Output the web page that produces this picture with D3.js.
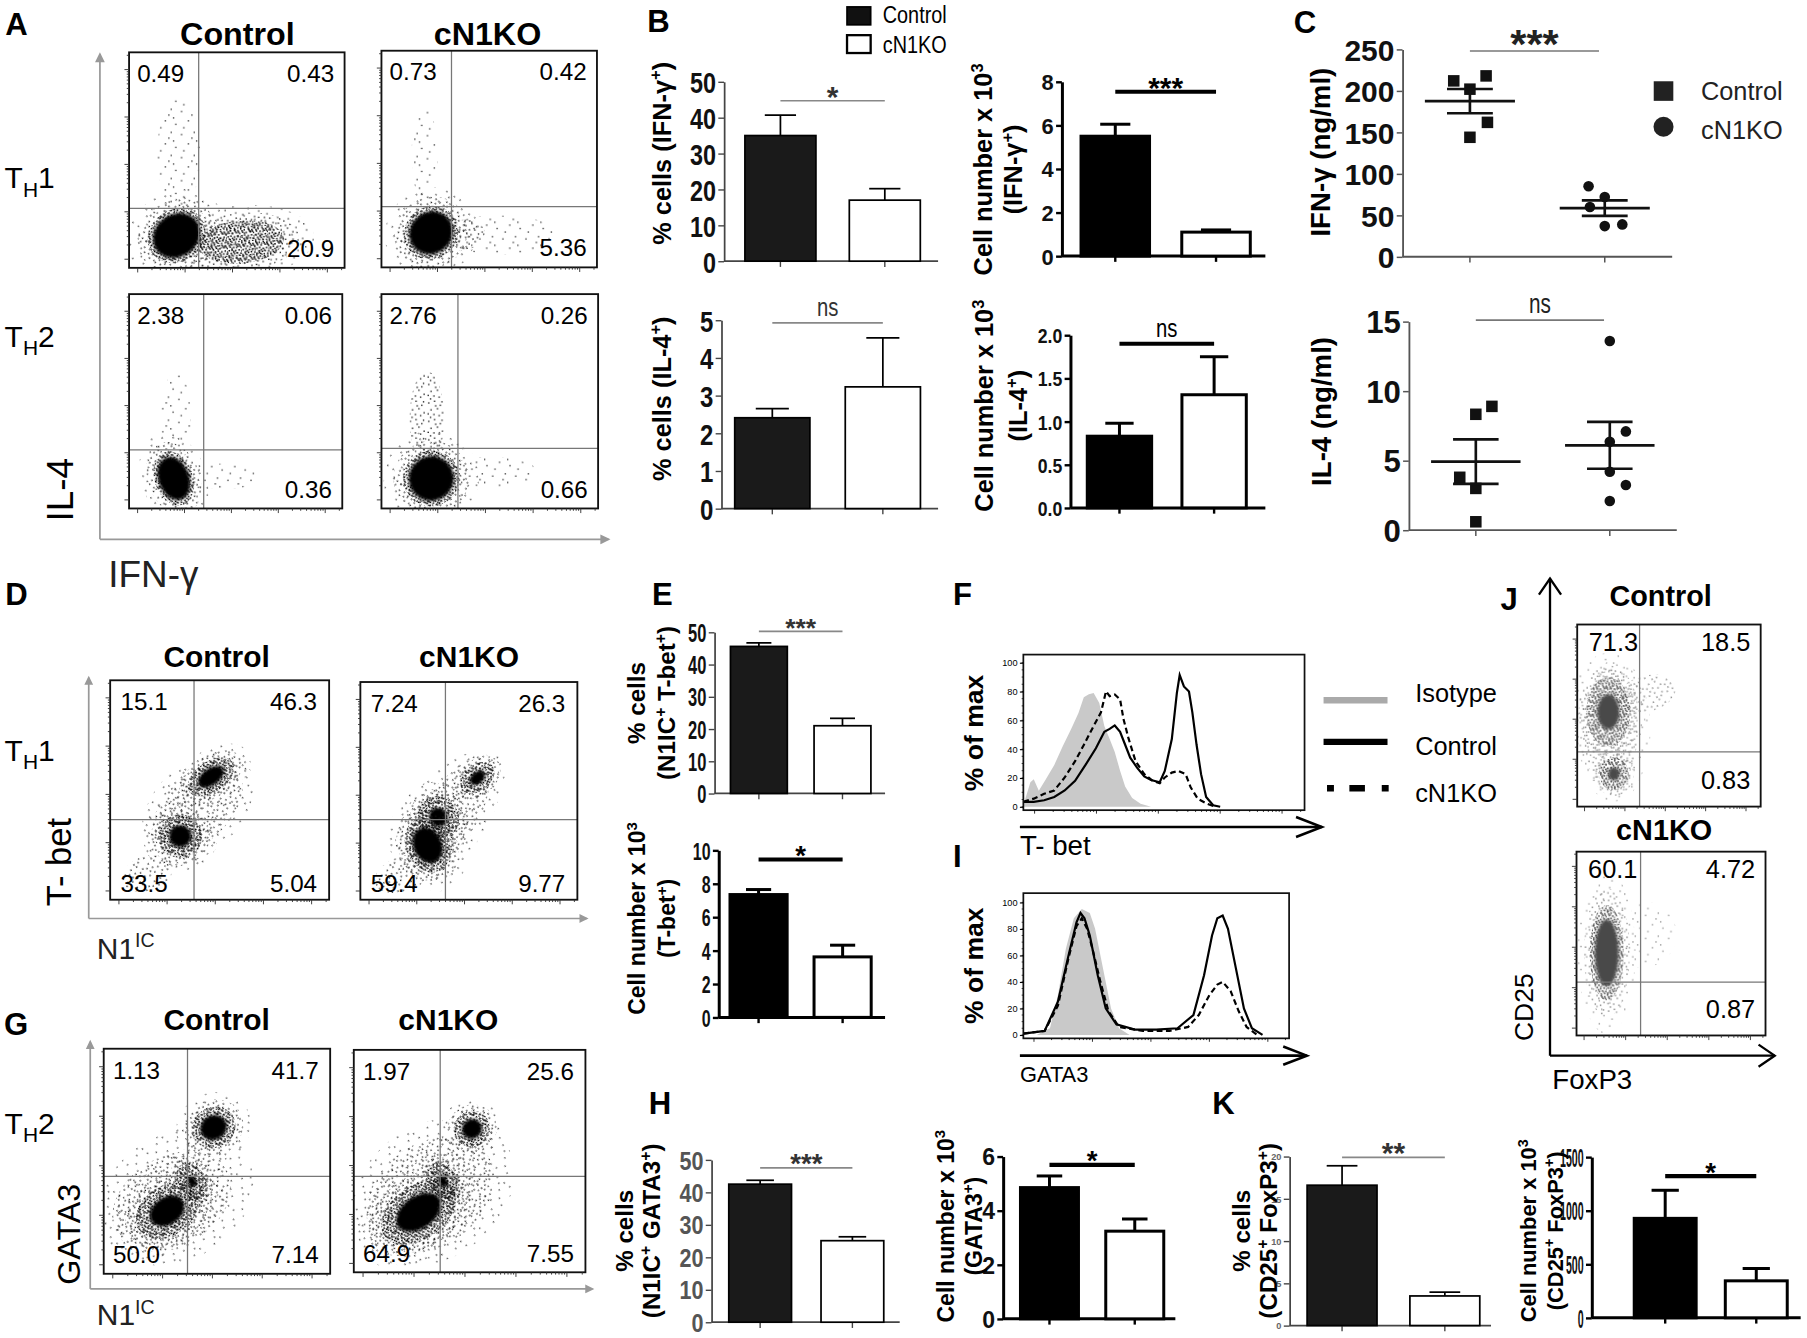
<!DOCTYPE html>
<html><head><meta charset="utf-8">
<script src="https://cdn.jsdelivr.net/npm/d3@7"></script>
<style>
html,body{margin:0;padding:0;background:#fff;}
svg{display:block;}
</style></head><body>
<svg id="fig"></svg>
<script>
// ================= DATA =================
const groups = ["Control", "cN1KO"];

// Panel B (mean, SEM)
const bIfnPctMean = [35.0, 17.0], bIfnPctSem = [5.7, 3.2];
const bIfnNumMean = [5.5, 1.1],   bIfnNumSem = [0.55, 0.1];
const bIl4PctMean = [2.41, 3.23], bIl4PctSem = [0.24, 1.3];
const bIl4NumMean = [0.83, 1.31], bIl4NumSem = [0.15, 0.44];
// Panel E
const eTbetPctMean = [45.6, 21.0], eTbetPctSem = [1.1, 2.3];
const eTbetNumMean = [7.35, 3.62], eTbetNumSem = [0.3, 0.7];
// Panel H
const hGataPctMean = [42.5, 25.1], hGataPctSem = [1.2, 1.2];
const hGataNumMean = [4.85, 3.24], hGataNumSem = [0.43, 0.45];
// Panel K
const kTregPctMean = [16.6, 3.5], kTregPctSem = [2.3, 0.45];
const kTregNumMean = [928, 345],  kTregNumSem = [262, 115];

// Panel C (individual mice) + horizontal jitter (fraction of group step)
const cIfnCtrl = [212, 218, 202, 162, 144], cIfnCtrlJit = [-0.12, 0.12, 0, 0.13, 0];
const cIfnKo   = [85, 72, 60, 37, 39],      cIfnKoJit   = [-0.12, 0, -0.11, 0, 0.13];
const cIl4Ctrl = [8.33, 8.9, 3.8, 3.0, 0.6], cIl4CtrlJit = [0, 0.12, -0.12, 0, 0];
const cIl4Ko   = [13.6, 7.1, 6.35, 4.2, 3.25, 2.1], cIl4KoJit = [0, 0.12, 0, 0, 0.12, 0];

// Tick labels
const ticks50 = [0, 10, 20, 30, 40, 50], ticks8 = [0, 2, 4, 6, 8], ticks5 = [0, 1, 2, 3, 4, 5];
const ticks2 = [0, 0.5, 1, 1.5, 2], ticks10 = [0, 2, 4, 6, 8, 10], ticks6 = [0, 2, 4, 6];
const ticks20 = [0, 5, 10, 15, 20], ticks1500 = [0, 500, 1000, 1500];
const ticks250 = [0, 50, 100, 150, 200, 250], ticks15 = [0, 5, 10, 15], ticksHist = [0, 20, 40, 60, 80, 100];

// Histograms: [position along axis (0-1), % of max]
const fIso = [[0,1],[0.025,17],[0.037,19],[0.055,11],[0.08,19],[0.11,29],[0.14,42],[0.17,54],[0.196,65],[0.215,76],[0.233,78],[0.25,79],[0.27,72],[0.288,56],[0.307,47],[0.325,38],[0.344,25],[0.362,14],[0.387,6],[0.417,2],[0.454,0]];
const fCtrl = [[0,3.4],[0.037,3.4],[0.074,4.5],[0.11,6.8],[0.147,11.3],[0.184,18],[0.221,29],[0.258,40.6],[0.288,52],[0.307,54],[0.325,56.4],[0.344,52],[0.362,43],[0.38,34],[0.405,27],[0.43,21],[0.454,18.5],[0.485,17],[0.503,24.8],[0.528,47],[0.546,79],[0.556,91.4],[0.571,83.5],[0.589,80],[0.601,65.5],[0.616,43],[0.632,22.6],[0.65,6.8],[0.675,1],[0.7,0]];
const fKo = [[0,3.4],[0.037,5.6],[0.074,9],[0.11,11.3],[0.147,20.3],[0.184,31.6],[0.215,42.9],[0.245,54.2],[0.276,65.5],[0.294,80.1],[0.307,76.7],[0.325,77.9],[0.344,74.5],[0.356,61],[0.374,47.4],[0.399,31.6],[0.43,22.6],[0.46,18],[0.485,16.3],[0.503,20.3],[0.528,23.7],[0.552,24.8],[0.577,22.6],[0.595,13.5],[0.62,5.6],[0.65,2.3],[0.675,0.5]];
const iIso = [[0.05,0],[0.1,5],[0.13,30],[0.16,65],[0.19,88],[0.22,95],[0.25,92],[0.27,80],[0.3,50],[0.33,20],[0.36,5],[0.4,0]];
const iCtrl = [[0,1],[0.08,3],[0.13,25],[0.17,60],[0.2,85],[0.215,92],[0.23,88],[0.25,75],[0.28,45],[0.31,20],[0.35,8],[0.42,4],[0.5,4],[0.58,5],[0.64,15],[0.68,45],[0.71,75],[0.73,88],[0.75,90],[0.77,80],[0.8,50],[0.83,20],[0.86,5],[0.9,0]];
const iKo = [[0,1],[0.08,3],[0.13,22],[0.17,58],[0.2,82],[0.22,88],[0.24,80],[0.26,65],[0.29,40],[0.32,18],[0.36,6],[0.45,3],[0.55,3],[0.62,6],[0.66,15],[0.7,30],[0.73,38],[0.75,40],[0.78,33],[0.81,18],[0.84,6],[0.88,0]];

// Flow quadrant percentages [top-left, top-right, bottom-left, bottom-right]
const aTh1CtrlQ = ["0.49", "0.43", "", "20.9"], aTh1KoQ = ["0.73", "0.42", "", "5.36"];
const aTh2CtrlQ = ["2.38", "0.06", "", "0.36"], aTh2KoQ = ["2.76", "0.26", "", "0.66"];
const dCtrlQ = ["15.1", "46.3", "33.5", "5.04"], dKoQ = ["7.24", "26.3", "59.4", "9.77"];
const gCtrlQ = ["1.13", "41.7", "50.0", "7.14"], gKoQ = ["1.97", "25.6", "64.9", "7.55"];
const jCtrlQ = ["71.3", "18.5", "", "0.83"], jKoQ = ["60.1", "4.72", "", "0.87"];
// Quadrant gates [x, y] as fraction of each axis
const aGates = [[0.323, 0.276], [0.325, 0.28], [0.35, 0.273], [0.353, 0.28]];
const dGates = [[0.383, 0.365], [0.392, 0.368]];
const gGates = [[0.37, 0.433], [0.373, 0.431]];
const jGates = [[0.34, 0.30], [0.339, 0.29]];
// Cell populations: [cx, cy, rx, ry, rotation, core]  (core 0 = halo only, -1 = faint)
const aTh1CtrlPop = [[0.23,0.53,0.1,0.26,0,-1],[0.52,0.12,0.2,0.1,-5,0.05],[0.22,0.15,0.14,0.12,-35,0.82]];
const aTh1KoPop = [[0.2,0.52,0.06,0.22,0,-1],[0.55,0.15,0.27,0.09,0,-1],[0.38,0.15,0.1,0.07,-10,0],[0.23,0.16,0.13,0.12,-40,0.8]];
const aTh2CtrlPop = [[0.22,0.42,0.07,0.22,0,-1],[0.45,0.15,0.17,0.06,0,-1],[0.21,0.14,0.09,0.13,-20,0.8]];
const aTh2KoPop = [[0.21,0.42,0.08,0.22,0,0],[0.5,0.17,0.22,0.07,0,-1],[0.23,0.14,0.13,0.13,-35,0.8]];
const dCtrlPop = [[0.4,0.42,0.3,0.2,-45,-1],[0.4,0.42,0.25,0.15,-45,0],[0.17,0.12,0.12,0.08,-20,0],[0.46,0.56,0.12,0.07,-35,0.55],[0.32,0.29,0.1,0.1,-50,0.5]];
const dKoPop = [[0.4,0.38,0.34,0.18,-55,-1],[0.4,0.38,0.28,0.13,-55,0],[0.2,0.12,0.14,0.08,-20,0],[0.54,0.56,0.09,0.06,-40,0.45],[0.36,0.38,0.09,0.1,-45,0.45],[0.31,0.25,0.1,0.13,-25,0.65]];
const gCtrlPop = [[0.32,0.34,0.36,0.28,-30,-1],[0.3,0.32,0.28,0.2,-30,0],[0.485,0.65,0.1,0.09,-30,0.6],[0.28,0.28,0.15,0.11,-35,0.55],[0.39,0.41,0.06,0.09,-30,0.3]];
const gKoPop = [[0.34,0.36,0.38,0.3,-35,-1],[0.33,0.35,0.3,0.23,-35,0],[0.51,0.645,0.08,0.08,-40,0.55],[0.28,0.27,0.18,0.12,-35,0.6],[0.385,0.41,0.06,0.09,-30,0.3]];
const jCtrlPop = [[0.2,0.42,0.2,0.38,0,-1],[0.18,0.42,0.15,0.33,0,0],[0.38,0.62,0.16,0.1,-15,0],[0.17,0.52,0.12,0.19,0,0.5],[0.2,0.18,0.08,0.09,0,0.4]];
const jKoPop = [[0.35,0.55,0.18,0.18,0,-1],[0.16,0.45,0.09,0.26,0,0.7]];

// ================= SETUP =================
const W = 1568, H = 1161;
const svg = d3.select('#fig').attr('width', 1807).attr('height', 1338).attr('viewBox', `0 0 ${W} ${H}`);
svg.append('rect').attr('width', W).attr('height', H).attr('fill', '#fff');
const defs = svg.append('defs');
const SANS = "'Liberation Sans', Arial, Helvetica, sans-serif";

function makePattern(id, size, pts, color, r) {
  const p = defs.append('pattern').attr('id', id).attr('patternUnits', 'userSpaceOnUse').attr('width', size).attr('height', size);
  pts.forEach(d => p.append('rect').attr('x', d[0]).attr('y', d[1]).attr('width', r).attr('height', r).attr('fill', color));
}
// texture tiles (style only)
const faintTex = [[2,3],[13,1],[8,11],[17,14],[4,17],[11,6],[15,8.5]];
const sparseTex = [[1,2],[6,0.5],[11,4],[3,8],[8.5,7],[13,10.5],[5.5,12],[10,13],[0.5,11.5],[12.5,1],[7,4.5],[2.5,14.5]];
const denseTex = [[0,0],[3,1],[6.5,0.5],[9.5,1.5],[1.5,3],[4.5,3.5],[8,3],[11,4],[0.5,6],[3,5.5],[6,6.5],[9,6],[2,8.5],[5,9],[7.5,8.5],[10.5,9],[0,10.5],[3.5,11],[6.5,11.2],[9.5,11],[11.3,7],[1,1.8],[7.2,1.8],[4.2,7.5],[10,2.8],[2.5,10]];
makePattern('vs-k', 20, faintTex, '#222', 1.1);
makePattern('sp-k', 16, sparseTex, '#111', 1.15);
makePattern('dn-k', 12, denseTex, '#000', 1.3);
makePattern('vs-g', 20, faintTex, '#999', 1.2);
makePattern('sp-g', 16, sparseTex, '#8a8a8a', 1.25);
makePattern('dn-g', 12, denseTex, '#555', 1.4);
defs.append('filter').attr('id', 'soft').attr('x', '-30%').attr('y', '-30%').attr('width', '160%').attr('height', '160%')
  .append('feGaussianBlur').attr('stdDeviation', 1.4);

function rich(sel, str, fs) {
  const parts = str.split(/(\^\{[^}]*\}|_\{[^}]*\})/).filter(s => s.length);
  let off = 0;
  parts.forEach(s => {
    if (s.startsWith('^{')) { sel.append('tspan').attr('font-size', fs * 0.65).attr('dy', -fs * 0.38 - off).text(s.slice(2, -1)); off = -fs * 0.38; }
    else if (s.startsWith('_{')) { sel.append('tspan').attr('font-size', fs * 0.7).attr('dy', fs * 0.28 - off).text(s.slice(2, -1)); off = fs * 0.28; }
    else { const t = sel.append('tspan').text(s); if (off) t.attr('dy', -off); off = 0; }
  });
}
function txt(x, y, str, o) {
  let tf = `translate(${x},${y})`;
  if (o.rot) tf += ` rotate(${o.rot})`;
  if (o.sx) tf += ` scale(${o.sx},1)`;
  const t = svg.append('text').attr('transform', tf).attr('font-size', o.fs)
    .attr('font-family', SANS).attr('font-weight', o.fw || 'normal')
    .attr('text-anchor', o.anchor || 'start').attr('fill', o.fill || '#000');
  rich(t, str, o.fs);
  return t;
}
function arrow(x1, y1, x2, y2, color, w, h, spread, filled) {
  svg.append('line').attr('x1', x1).attr('y1', y1).attr('x2', x2).attr('y2', y2).attr('stroke', color).attr('stroke-width', w);
  const a = Math.atan2(y2 - y1, x2 - x1);
  const p = `M${x2 - h * Math.cos(a - spread)},${y2 - h * Math.sin(a - spread)} L${x2},${y2} L${x2 - h * Math.cos(a + spread)},${y2 - h * Math.sin(a + spread)}`;
  svg.append('path').attr('d', filled ? p + 'Z' : p).attr('fill', filled ? color : 'none').attr('stroke', color).attr('stroke-width', w);
}

// ================= FLOW PLOTS =================
let clipN = 0;
const decadeStarts = [0.04, 0.26, 0.48, 0.70, 0.92];
function flowPlot(p) {
  const g = svg.append('g');
  const sx = d3.scaleLinear().domain([0, 1]).range([p.x, p.x + p.w]);
  const sy = d3.scaleLinear().domain([0, 1]).range([p.y + p.h, p.y]);
  const id = 'clip' + (clipN++);
  defs.append('clipPath').attr('id', id).append('rect').attr('x', p.x).attr('y', p.y).attr('width', p.w).attr('height', p.h);
  const cg = g.append('g').attr('clip-path', `url(#${id})`);
  const tone = p.tone || 'k';
  const coreCol = tone === 'k' ? '#000' : '#4a4a4a';
  p.pop.forEach(c => {
    const t = `translate(${sx(c[0])},${sy(c[1])}) rotate(${c[4]})`;
    const rx = c[2] * p.w, ry = c[3] * p.h;
    if (c[5] < 0) {
      cg.append('ellipse').attr('transform', t).attr('rx', rx).attr('ry', ry).attr('fill', `url(#vs-${tone})`);
    } else if (c[5] === 0) {
      cg.append('ellipse').attr('transform', t).attr('rx', rx).attr('ry', ry).attr('fill', `url(#sp-${tone})`);
    } else {
      cg.append('ellipse').attr('transform', t).attr('rx', rx * 1.7).attr('ry', ry * 1.7).attr('fill', `url(#vs-${tone})`);
      cg.append('ellipse').attr('transform', t).attr('rx', rx * 1.35).attr('ry', ry * 1.35).attr('fill', `url(#sp-${tone})`);
      cg.append('ellipse').attr('transform', t).attr('rx', rx).attr('ry', ry).attr('fill', `url(#dn-${tone})`);
      if (c[5] > 0.1) cg.append('ellipse').attr('transform', t).attr('rx', rx * c[5]).attr('ry', ry * c[5]).attr('fill', coreCol).attr('filter', 'url(#soft)');
    }
  });
  g.append('line').attr('x1', sx(p.gate[0])).attr('x2', sx(p.gate[0])).attr('y1', p.y).attr('y2', p.y + p.h).attr('stroke', '#777').attr('stroke-width', 1.1);
  g.append('line').attr('x1', p.x).attr('x2', p.x + p.w).attr('y1', sy(p.gate[1])).attr('y2', sy(p.gate[1])).attr('stroke', '#777').attr('stroke-width', 1.1);
  g.append('rect').attr('x', p.x).attr('y', p.y).attr('width', p.w).attr('height', p.h).attr('fill', 'none').attr('stroke', '#111').attr('stroke-width', 1.6);
  const tk = [];
  decadeStarts.forEach(s => { tk.push([s, 4]); for (let k = 2; k < 10; k++) { const v = s + 0.22 * Math.log10(k); if (v < 1) tk.push([v, 2]); } });
  tk.forEach(([v, l]) => {
    g.append('line').attr('x1', p.x).attr('x2', p.x - l).attr('y1', sy(v)).attr('y2', sy(v)).attr('stroke', '#333').attr('stroke-width', 0.8);
    g.append('line').attr('y1', p.y + p.h).attr('y2', p.y + p.h + l).attr('x1', sx(v)).attr('x2', sx(v)).attr('stroke', '#333').attr('stroke-width', 0.8);
  });
  const fs = p.fs, pd = p.pad, q = p.q;
  if (q[0]) txt(p.x + pd[0], p.y + pd[1], q[0], {fs});
  if (q[1]) txt(p.x + p.w - pd[2], p.y + pd[1], q[1], {fs, anchor: 'end'});
  if (q[2]) txt(p.x + pd[0], p.y + p.h - pd[3], q[2], {fs});
  if (q[3]) txt(p.x + p.w - pd[2], p.y + p.h - pd[3], q[3], {fs, anchor: 'end'});
}

// ---- Panel A ----
txt(206, 39, 'Control', {fs: 28, fw: 'bold', anchor: 'middle'});
txt(423, 39, 'cN1KO', {fs: 28, fw: 'bold', anchor: 'middle'});
const padA = [7, 25.5, 9, 9.5];
flowPlot({x: 112, y: 45.4, w: 187, h: 187, gate: aGates[0], q: aTh1CtrlQ, pop: aTh1CtrlPop, fs: 21, pad: padA});
flowPlot({x: 331, y: 44, w: 187, h: 188, gate: aGates[1], q: aTh1KoQ, pop: aTh1KoPop, fs: 21, pad: padA});
flowPlot({x: 112, y: 255.2, w: 185, h: 186, gate: aGates[2], q: aTh2CtrlQ, pop: aTh2CtrlPop, fs: 21, pad: padA});
flowPlot({x: 331, y: 255.2, w: 188, h: 186, gate: aGates[3], q: aTh2KoQ, pop: aTh2KoPop, fs: 21, pad: padA});
arrow(86.7, 468, 86.7, 47, '#999', 1.5, 7, 0.45, true);
arrow(86.7, 468, 528, 468, '#999', 1.5, 7, 0.45, true);
txt(4, 163.5, 'T_{H}1', {fs: 26});
txt(4, 301, 'T_{H}2', {fs: 26});
txt(63, 425, 'IL-4', {fs: 32, rot: -90, anchor: 'middle'});
txt(94, 509, 'IFN-γ', {fs: 32, fill: '#222'});

// ---- Panel D ----
txt(188, 579, 'Control', {fs: 26, fw: 'bold', anchor: 'middle'});
txt(407, 579, 'cN1KO', {fs: 26, fw: 'bold', anchor: 'middle'});
const padD = [9, 26, 10.5, 6.7];
flowPlot({x: 95.6, y: 590.3, w: 190, h: 190.4, gate: dGates[0], q: dCtrlQ, pop: dCtrlPop, fs: 21, pad: padD});
flowPlot({x: 312.7, y: 591.8, w: 188.3, h: 188.9, gate: dGates[1], q: dKoQ, pop: dKoPop, fs: 21, pad: padD});
arrow(77, 797, 77, 588, '#999', 1.5, 6, 0.45, true);
arrow(77, 797, 509, 797, '#999', 1.5, 6, 0.45, true);
txt(4, 660, 'T_{H}1', {fs: 26});
txt(62, 748, 'T- bet', {fs: 30, rot: -90, anchor: 'middle'});
txt(84, 832, 'N1^{IC}', {fs: 26, fill: '#222'});

// ---- Panel G ----
txt(188, 894, 'Control', {fs: 26, fw: 'bold', anchor: 'middle'});
txt(389, 894, 'cN1KO', {fs: 26, fw: 'bold', anchor: 'middle'});
const padG = [8, 26, 10, 9.3];
flowPlot({x: 90, y: 910, w: 196.5, h: 195.3, gate: gGates[0], q: gCtrlQ, pop: gCtrlPop, fs: 21, pad: padG});
flowPlot({x: 307, y: 911, w: 201, h: 193, gate: gGates[1], q: gKoQ, pop: gKoPop, fs: 21, pad: padG});
arrow(78.3, 1118.4, 78.3, 904, '#999', 1.5, 6, 0.45, true);
arrow(78.3, 1118.4, 514, 1118.4, '#999', 1.5, 6, 0.45, true);
txt(4, 983.7, 'T_{H}2', {fs: 26});
txt(69, 1071, 'GATA3', {fs: 28, rot: -90, anchor: 'middle'});
txt(84, 1150, 'N1^{IC}', {fs: 26, fill: '#222'});

// ---- Panel J ----
txt(1441, 526, 'Control', {fs: 25, fw: 'bold', anchor: 'middle'});
txt(1444, 729, 'cN1KO', {fs: 25, fw: 'bold', anchor: 'middle'});
const padJ = [10, 23, 9, 15];
flowPlot({x: 1368.6, y: 541.9, w: 159.2, h: 158, gate: jGates[0], q: jCtrlQ, pop: jCtrlPop, tone: 'g', fs: 22, pad: padJ});
flowPlot({x: 1368, y: 739, w: 164, h: 159.5, gate: jGates[1], q: jKoQ, pop: jKoPop, tone: 'g', fs: 22, pad: padJ});
arrow(1345, 916, 1345, 502, '#000', 2, 17, 0.6, false);
arrow(1345, 916, 1540, 916, '#000', 2, 17, 0.6, false);
txt(1330, 874, 'CD25', {fs: 23, rot: -90, anchor: 'middle'});
txt(1347, 945, 'FoxP3', {fs: 24});

// ================= BAR CHARTS =================
function barChart(c) {
  const g = svg.append('g');
  const col = c.thin ? '#444' : '#000', sw = c.thin ? 1.5 : 2.6;
  const x = d3.scaleBand().domain(groups).range([c.ax, c.end]).paddingInner(0.32).paddingOuter(c.po).align(c.al);
  const y = d3.scaleLinear().domain([0, c.max]).range([c.y0, c.yTop]);
  const tsx = c.tsx || 1;
  const ya = g.append('g').attr('transform', `translate(${c.ax},0)`)
    .call(d3.axisLeft(y).tickValues(c.ticks).tickSize(5).tickSizeOuter(0).tickPadding(2).tickFormat(d3.format(c.fmt || 'd')));
  ya.select('.domain').attr('stroke', col).attr('stroke-width', sw);
  ya.selectAll('.tick line').attr('stroke', col).attr('stroke-width', sw * 0.8);
  ya.selectAll('.tick text').attr('font-family', SANS).attr('font-weight', 'bold').attr('font-size', c.tfs)
    .attr('fill', c.tcol || '#111').attr('x', -7 / tsx).attr('transform', `scale(${tsx},1)`).attr('dy', '0.36em');
  g.append('line').attr('x1', c.ax).attr('x2', c.end).attr('y1', c.y0).attr('y2', c.y0).attr('stroke', col).attr('stroke-width', sw);
  const bw = x.bandwidth();
  groups.forEach((k, i) => {
    const cx = x(k) + bw / 2, top = y(c.mean[i] + c.sem[i]);
    g.append('line').attr('x1', cx).attr('x2', cx).attr('y1', c.y0).attr('y2', c.y0 + 5).attr('stroke', col).attr('stroke-width', sw * 0.8);
    g.append('line').attr('x1', cx).attr('x2', cx).attr('y1', y(c.mean[i])).attr('y2', top).attr('stroke', '#000').attr('stroke-width', sw);
    g.append('line').attr('x1', cx - bw * 0.22).attr('x2', cx + bw * 0.22).attr('y1', top).attr('y2', top).attr('stroke', '#000').attr('stroke-width', sw);
    g.append('rect').attr('x', x(k)).attr('y', y(c.mean[i])).attr('width', bw).attr('height', c.y0 - y(c.mean[i]))
      .attr('fill', i === 0 ? (c.thin ? '#1a1a1a' : '#000') : '#fff').attr('stroke', '#000').attr('stroke-width', sw);
  });
  const s1 = x(groups[0]) + bw / 2, s2 = x(groups[1]) + bw / 2, sy = y(c.sig[0]);
  g.append('line').attr('x1', s1).attr('x2', s2).attr('y1', sy).attr('y2', sy)
    .attr('stroke', c.thin ? '#888' : '#000').attr('stroke-width', c.thin ? 1.5 : 3.5);
  const isNs = c.sig[1] === 'ns', sf = c.sig[2];
  txt((s1 + s2) / 2, isNs ? sy - 6 : sy + sf * 0.2, c.sig[1], {fs: sf, sx: isNs ? 0.8 : 1, fw: isNs ? 'normal' : 'bold', anchor: 'middle', fill: c.thin ? '#333' : '#000'});
  c.lab.forEach((l, i) => txt(c.labX[i], c.labY, l, {fs: c.lfs, fw: 'bold', rot: -90, anchor: 'middle'}));
}

[
  {ax: 628.3, end: 814, po: 0.185, al: 0.54, y0: 226.6, yTop: 70.9, max: 50, ticks: ticks50, mean: bIfnPctMean, sem: bIfnPctSem, sig: [44.7, '*', 26], thin: true, tfs: 26, tsx: 0.78, lab: ['% cells (IFN-γ^{+})'], labX: [582], labY: 133, lfs: 22},
  {ax: 921.4, end: 1098, po: 0.17, al: 0.56, y0: 222.2, yTop: 70.9, max: 8, ticks: ticks8, mean: bIfnNumMean, sem: bIfnNumSem, sig: [7.54, '***', 26], thin: false, tfs: 19, lab: ['Cell number x 10^{3}', '(IFN-γ^{+})'], labX: [861, 887], labY: 147, lfs: 22},
  {ax: 626, end: 814, po: 0.14, al: 0.43, y0: 441.3, yTop: 277.8, max: 5, ticks: ticks5, mean: bIl4PctMean, sem: bIl4PctSem, sig: [4.93, 'ns', 22], thin: true, tfs: 26, tsx: 0.8, lab: ['% cells (IL-4^{+})'], labX: [582], labY: 346, lfs: 22},
  {ax: 928.8, end: 1098, po: 0.19, al: 0.47, y0: 440.7, yTop: 290.8, max: 2, ticks: ticks2, fmt: '.1f', mean: bIl4NumMean, sem: bIl4NumSem, sig: [1.9, 'ns', 22], thin: false, tfs: 18, tsx: 0.85, lab: ['Cell number x 10^{3}', '(IL-4^{+})'], labX: [862, 891], labY: 352, lfs: 22},
  {ax: 620, end: 768, po: 0.18, al: 0.53, y0: 688.5, yTop: 548.6, max: 50, ticks: ticks50, mean: eTbetPctMean, sem: eTbetPctSem, sig: [50.3, '***', 23], thin: true, tfs: 22, tsx: 0.65, lab: ['% cells', '(N1IC^{+} T-bet^{+})'], labX: [560, 586], labY: 610, lfs: 21},
  {ax: 623.6, end: 768, po: 0.15, al: 0.45, y0: 882.8, yTop: 737.8, max: 10, ticks: ticks10, mean: eTbetNumMean, sem: eTbetNumSem, sig: [9.45, '*', 24], thin: false, tfs: 21, tsx: 0.66, lab: ['Cell number x 10^{3}', '(T-bet^{+})'], labX: [560, 586], labY: 797, lfs: 20},
  {ax: 617.4, end: 780.7, po: 0.18, al: 0.52, y0: 1147.3, yTop: 1006.4, max: 50, ticks: ticks50, mean: hGataPctMean, sem: hGataPctSem, sig: [47.5, '***', 24], thin: true, tfs: 22, tsx: 0.85, tcol: '#555', lab: ['% cells', '(N1IC^{+} GATA3^{+})'], labX: [549, 573], labY: 1068, lfs: 21},
  {ax: 870.4, end: 1019.9, po: 0.17, al: 0.6, y0: 1144.4, yTop: 1003.5, max: 6, ticks: ticks6, mean: hGataNumMean, sem: hGataNumSem, sig: [5.69, '*', 24], thin: false, tfs: 20, lab: ['Cell number x 10^{3}', '(GATA3^{+})'], labX: [828, 852], labY: 1064, lfs: 20},
  {ax: 1119, end: 1293.8, po: 0.14, al: 0.61, y0: 1150.2, yTop: 1003.5, max: 20, ticks: ticks20, mean: kTregPctMean, sem: kTregPctSem, sig: [19.9, '**', 26], thin: true, tfs: 8, tcol: '#666', lab: ['% cells', '(CD25^{+} FoxP3^{+})'], labX: [1085, 1108], labY: 1068, lfs: 21},
  {ax: 1381.2, end: 1562.5, po: 0.307, al: 0.76, y0: 1143.5, yTop: 1004, max: 1500, ticks: ticks1500, mean: kTregNumMean, sem: kTregNumSem, sig: [1322, '*', 24], thin: false, tfs: 22, tsx: 0.42, lab: ['Cell number x 10^{3}', '(CD25^{+} FoxP3^{+})'], labX: [1333, 1356], labY: 1068, lfs: 19}
].forEach(barChart);

// B legend
svg.append('rect').attr('x', 735).attr('y', 6).attr('width', 20.5).attr('height', 15.5).attr('fill', '#111').attr('stroke', '#000').attr('stroke-width', 1.5);
svg.append('rect').attr('x', 735).attr('y', 30.5).attr('width', 20.5).attr('height', 15.5).attr('fill', '#fff').attr('stroke', '#000').attr('stroke-width', 2);
txt(766, 20.3, 'Control', {fs: 21, sx: 0.82});
txt(766, 45.7, 'cN1KO', {fs: 21, sx: 0.82});

// ================= SCATTER (C) =================
function scatter(c) {
  const g = svg.append('g');
  const x = d3.scalePoint().domain(groups).range([c.ax, c.end]).padding(0.5);
  const st = x.step();
  const y = d3.scaleLinear().domain([0, c.max]).range([c.y0, c.yTop]);
  const ya = g.append('g').attr('transform', `translate(${c.ax},0)`)
    .call(d3.axisLeft(y).tickValues(c.ticks).tickSize(5).tickSizeOuter(0).tickPadding(2));
  ya.select('.domain').attr('stroke', '#555').attr('stroke-width', 1.6);
  ya.selectAll('.tick line').attr('stroke', '#555').attr('stroke-width', 1.3);
  ya.selectAll('.tick text').attr('font-family', SANS).attr('font-weight', 'bold').attr('font-size', c.tfs).attr('fill', '#111').attr('dy', '0.36em');
  g.append('line').attr('x1', c.ax).attr('x2', c.end).attr('y1', c.y0).attr('y2', c.y0).attr('stroke', '#555').attr('stroke-width', 1.6);
  const sets = [[c.ctrl, c.cj], [c.ko, c.kj]];
  groups.forEach((k, i) => {
    const cx = x(k);
    g.append('line').attr('x1', cx).attr('x2', cx).attr('y1', c.y0).attr('y2', c.y0 + 5).attr('stroke', '#555').attr('stroke-width', 1.3);
    const vals = sets[i][0], jit = sets[i][1];
    vals.forEach((v, j) => {
      const px = cx + jit[j] * st, py = y(v);
      if (i === 0) g.append('rect').attr('x', px - 5).attr('y', py - 5).attr('width', 10).attr('height', 10).attr('fill', '#111');
      else g.append('circle').attr('cx', px).attr('cy', py).attr('r', 4.6).attr('fill', '#111');
    });
    const m = d3.mean(vals), se = d3.deviation(vals) / Math.sqrt(vals.length);
    g.append('line').attr('x1', cx - 0.334 * st).attr('x2', cx + 0.334 * st).attr('y1', y(m)).attr('y2', y(m)).attr('stroke', '#111').attr('stroke-width', 2.3);
    g.append('line').attr('x1', cx).attr('x2', cx).attr('y1', y(m + se)).attr('y2', y(m - se)).attr('stroke', '#111').attr('stroke-width', 2.3);
    [m + se, m - se].forEach(v => g.append('line').attr('x1', cx - 0.17 * st).attr('x2', cx + 0.17 * st).attr('y1', y(v)).attr('y2', y(v)).attr('stroke', '#111').attr('stroke-width', 2.3));
  });
  const s1 = x(groups[0]), s2 = x(groups[1]) - 5, sy = y(c.sig[0]);
  g.append('line').attr('x1', s1).attr('x2', s2).attr('y1', sy).attr('y2', sy).attr('stroke', '#777').attr('stroke-width', 1.5);
  const isNs = c.sig[1] === 'ns', sf = c.sig[2];
  txt((s1 + s2) / 2, isNs ? sy - 6 : sy + sf * 0.18, c.sig[1], {fs: sf, sx: isNs ? 0.75 : 1, fw: isNs ? 'normal' : 'bold', anchor: 'middle', fill: '#222'});
  txt(c.labX, c.labY, c.lab, {fs: c.lfs, fw: 'bold', rot: -90, anchor: 'middle'});
}
scatter({ax: 1217, end: 1451, y0: 222.8, yTop: 42.8, max: 250, ticks: ticks250, ctrl: cIfnCtrl, cj: cIfnCtrlJit, ko: cIfnKo, kj: cIfnKoJit, sig: [248, '***', 36], tfs: 26, lab: 'IFN-γ (ng/ml)', labX: 1154, labY: 132, lfs: 24});
scatter({ax: 1222.5, end: 1455, y0: 460, yTop: 279, max: 15, ticks: ticks15, ctrl: cIl4Ctrl, cj: cIl4CtrlJit, ko: cIl4Ko, kj: cIl4KoJit, sig: [15.1, 'ns', 24], tfs: 27, lab: 'IL-4 (ng/ml)', labX: 1155, labY: 357, lfs: 24});
// C legend
svg.append('rect').attr('x', 1435).attr('y', 70.5).attr('width', 17).attr('height', 17).attr('fill', '#222');
svg.append('circle').attr('cx', 1443.5).attr('cy', 110).attr('r', 8.7).attr('fill', '#222');
txt(1476, 87, 'Control', {fs: 22, fill: '#222'});
txt(1476, 121, 'cN1KO', {fs: 22, fill: '#222'});

// ================= HISTOGRAMS (F, I) =================
function hist(c) {
  const g = svg.append('g');
  const x = d3.scaleLinear().domain([0, 1]).range([c.x, c.x + c.w]);
  const y = d3.scaleLinear().domain([0, 100]).range([c.zero, c.hundred]);
  g.append('path').datum(c.iso).attr('d', d3.area().x(d => x(d[0])).y0(y(0)).y1(d => y(d[1]))).attr('fill', '#c9c9c9');
  g.append('path').datum(c.ctrl).attr('d', d3.line().x(d => x(d[0])).y(d => y(d[1]))).attr('fill', 'none').attr('stroke', '#000').attr('stroke-width', 1.9);
  g.append('path').datum(c.ko).attr('d', d3.line().x(d => x(d[0])).y(d => y(d[1]))).attr('fill', 'none').attr('stroke', '#000').attr('stroke-width', 1.9).attr('stroke-dasharray', '5,3');
  g.append('rect').attr('x', c.x).attr('y', c.top).attr('width', c.w).attr('height', c.bottom - c.top).attr('fill', 'none').attr('stroke', '#111').attr('stroke-width', 1.5);
  const ya = g.append('g').attr('transform', `translate(${c.x},0)`).call(d3.axisLeft(y).tickValues(ticksHist).tickSize(3).tickSizeOuter(0).tickPadding(2));
  ya.select('.domain').remove();
  ya.selectAll('.tick text').attr('font-size', 8).attr('font-family', SANS);
  d3.range(0, 101, 5).forEach(v => g.append('line').attr('x1', c.x).attr('x2', c.x - 1.5).attr('y1', y(v)).attr('y2', y(v)).attr('stroke', '#000').attr('stroke-width', 0.6));
  const tk = [];
  decadeStarts.forEach(s => { for (let k = 1; k < 10; k++) { const v = s + 0.22 * Math.log10(k); if (v < 1) tk.push([v, k === 1 ? 3 : 1.5]); } });
  tk.forEach(([v, l]) => g.append('line').attr('x1', x(v)).attr('x2', x(v)).attr('y1', c.bottom).attr('y2', c.bottom + l).attr('stroke', '#000').attr('stroke-width', 0.7));
  txt(c.labX, c.labY, '% of max', {fs: 23, fw: 'bold', rot: -90, anchor: 'middle'});
}
hist({x: 888, w: 244, top: 568, bottom: 703, zero: 700, hundred: 575, iso: fIso, ctrl: fCtrl, ko: fKo, labX: 853, labY: 636});
arrow(885, 717.6, 1147, 717.6, '#000', 2.2, 24, 0.37, false);
txt(885, 742, 'T- bet', {fs: 24});
hist({x: 888, w: 230.6, top: 775, bottom: 901, zero: 898, hundred: 783, iso: iIso, ctrl: iCtrl, ko: iKo, labX: 853, labY: 838});
arrow(885, 916, 1134, 916, '#000', 2.2, 22, 0.37, false);
txt(885, 939, 'GATA3', {fs: 19});
// F/I legend
svg.append('line').attr('x1', 1148.5).attr('x2', 1204).attr('y1', 607.6).attr('y2', 607.6).attr('stroke', '#aaa').attr('stroke-width', 5.5);
svg.append('line').attr('x1', 1148.5).attr('x2', 1204).attr('y1', 643.8).attr('y2', 643.8).attr('stroke', '#000').attr('stroke-width', 5.5);
svg.append('line').attr('x1', 1151.5).attr('x2', 1205).attr('y1', 684).attr('y2', 684).attr('stroke', '#000').attr('stroke-width', 5.5).attr('stroke-dasharray', '6 13.4 13.5 14.6 6 100');
txt(1228, 609, 'Isotype', {fs: 22});
txt(1228, 655.4, 'Control', {fs: 22});
txt(1228, 696, 'cN1KO', {fs: 22});

// ================= PANEL LETTERS =================
[['A', 4.5, 30.4], ['B', 561.6, 27.5], ['C', 1122.7, 29], ['D', 4.5, 525], ['E', 565.7, 525], ['F', 827, 525],
 ['G', 3.4, 898.4], ['H', 563, 966.4], ['I', 827, 752], ['J', 1302, 529], ['K', 1052, 966.4]]
  .forEach(([l, x, y]) => txt(x, y, l, {fs: 27, fw: 'bold'}));
</script>
</body></html>
